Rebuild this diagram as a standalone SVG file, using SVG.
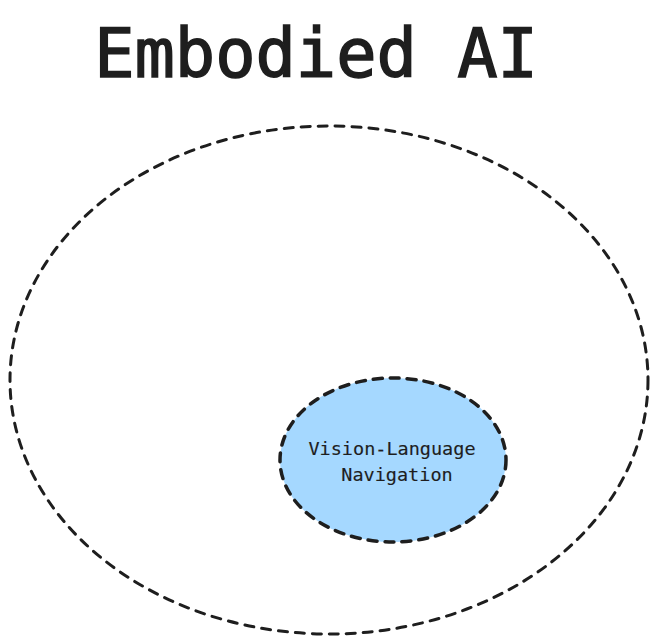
<svg xmlns="http://www.w3.org/2000/svg" width="656" height="642" viewBox="0 0 656 642">
<style>
.dash{fill:none;stroke:#1e1e1e;stroke-width:3;stroke-dasharray:9 8;stroke-linecap:round}
.t{font-family:"DejaVu Sans Mono","Liberation Mono",monospace;fill:#1e1e1e}
</style>
<rect width="656" height="642" fill="#ffffff"/>
<g id="title"><text class="t" x="316" y="77" font-size="67" text-anchor="middle" stroke="#1e1e1e" stroke-width="1.5">Embodied AI</text></g>
<g id="embodied-ai"><ellipse class="dash" cx="329" cy="380" rx="319" ry="254"/></g>
<g id="vln">
<ellipse cx="393" cy="460" rx="113" ry="82" fill="#a5d8ff" stroke="#1e1e1e" stroke-width="3.5" stroke-dasharray="9 8" stroke-linecap="round"/>
<text class="t" x="392" y="455" font-size="18.5" text-anchor="middle" stroke="#1e1e1e" stroke-width="0.15">Vision-Language</text>
<text class="t" x="397" y="481" font-size="18.5" text-anchor="middle" stroke="#1e1e1e" stroke-width="0.15">Navigation</text>
</g>
<g id="connectors"/>
</svg>
